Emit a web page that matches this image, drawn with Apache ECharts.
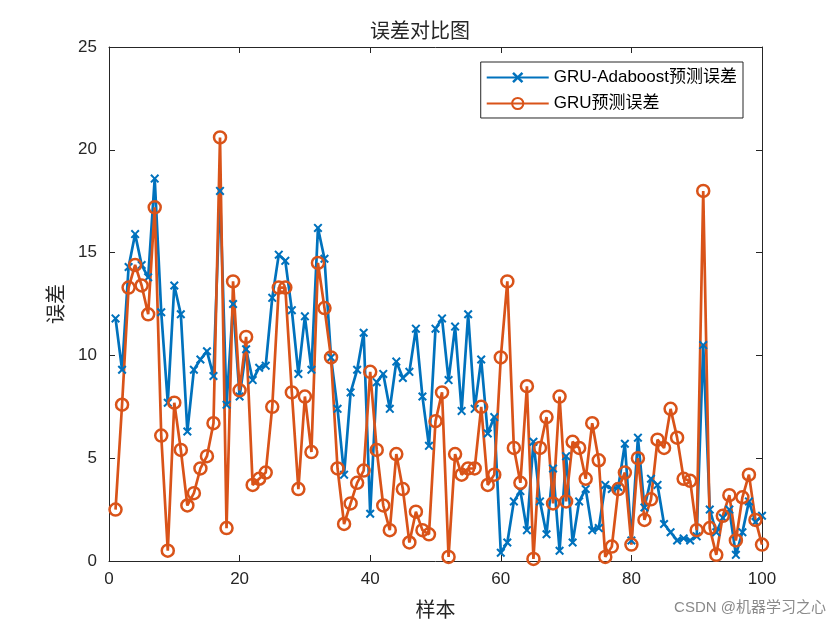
<!DOCTYPE html>
<html><head><meta charset="utf-8">
<script src="https://cdn.jsdelivr.net/npm/echarts@6/dist/echarts.min.js"></script>
<style>html,body{margin:0;padding:0;background:#fff}#c{width:840px;height:630px}</style>
</head><body><div id="c"></div>
<script>
const samples = Array.from({length:100},(_,i)=>i+1);
const adaboostErr = [11.8,9.3,14.3,15.9,14.4,13.8,18.6,12.1,7.7,13.4,
12.0,6.3,9.3,9.8,10.2,9.0,18.0,7.6,12.5,8.0,
10.3,8.8,9.4,9.5,12.8,14.9,14.6,12.2,9.1,11.9,
9.3,16.2,14.7,9.9,7.4,4.2,8.2,9.3,11.1,2.3,
8.7,9.1,7.4,9.7,8.9,9.2,11.3,8.0,5.6,11.3,
11.8,8.8,11.4,7.3,12.0,7.4,9.8,6.2,7.0,0.4,
0.9,2.9,3.4,1.5,5.8,2.9,1.3,4.5,0.5,5.1,
0.9,2.9,3.5,1.5,1.6,3.7,3.5,3.6,5.7,1.0,
6.0,2.6,4.0,3.7,1.8,1.4,1.0,1.1,1.0,1.2,
10.5,2.5,1.4,2.1,2.5,0.3,1.4,2.9,1.9,2.2];
const gruErr = [2.5,7.6,13.3,14.4,13.4,12.0,17.2,6.1,0.5,7.7,
5.4,2.7,3.3,4.5,5.1,6.7,20.6,1.6,13.6,8.3,
10.9,3.7,4.0,4.3,7.5,13.3,13.3,8.2,3.5,8.0,
5.3,14.5,12.3,9.9,4.5,1.8,2.8,3.8,4.4,9.2,
5.4,2.7,1.5,5.2,3.5,0.9,2.4,1.5,1.3,6.8,
8.2,0.2,5.2,4.2,4.5,4.5,7.5,3.7,4.2,9.9,
13.6,5.5,3.8,8.5,0.1,5.5,7.0,2.8,8.0,2.9,
5.8,5.5,4.0,6.7,4.9,0.2,0.7,3.5,4.3,0.8,
5.0,2.0,3.0,5.9,5.5,7.4,6.0,4.0,3.9,1.5,
18.0,1.6,0.3,2.2,3.2,1.0,3.1,4.2,2.0,0.8];
const seriesNames = ['GRU-Adaboost预测误差','GRU预测误差'];
const xTicks = [0,20,40,60,80,100];
const yTicks = [0,5,10,15,20,25];

const FONT = '"Liberation Sans", "Noto Sans CJK SC", sans-serif';
const BLUE = '#0072BD', ORANGE = '#D95319';
const xMark = 'path://M0,1.6 L1.6,0 L5,3.4 L8.4,0 L10,1.6 L6.6,5 L10,8.4 L8.4,10 L5,6.6 L1.6,10 L0,8.4 L3.4,5 Z';

const chart = echarts.init(document.getElementById('c'), null, {renderer:'canvas'});
function axisCommon(){ return {
  axisLine:{show:true,onZero:false,lineStyle:{color:'#262626',width:1}},
  axisTick:{show:true,inside:true,length:6,lineStyle:{color:'#262626'}},
  splitLine:{show:false}
};}
chart.setOption({
  animation:false,
  backgroundColor:'#fff',
  title:{text:'误差对比图',left:'center',top:17,textStyle:{fontFamily:FONT,fontSize:20,fontWeight:'normal',color:'#262626'}},
  grid:{left:109,right:78,top:47,bottom:69,containLabel:false},
  legend:{
    right:97, top:62, orient:'vertical', itemWidth:62, itemHeight:14, itemGap:9,
    backgroundColor:'#fff', borderColor:'#262626', borderWidth:1, padding:[7,6,6,5],
    textStyle:{fontFamily:FONT,fontSize:17,color:'#000'},
    data:seriesNames
  },
  xAxis:[
    Object.assign({type:'value',min:0,max:100,interval:20,position:'bottom',
      name:'样本',nameLocation:'middle',nameGap:40,
      nameTextStyle:{fontFamily:FONT,fontSize:20,color:'#262626'},
      axisLabel:{fontFamily:FONT,fontSize:17,color:'#262626',margin:10}},axisCommon()),
    Object.assign({type:'value',min:0,max:100,interval:20,position:'top',axisLabel:{show:false}},axisCommon())
  ],
  yAxis:[
    Object.assign({type:'value',min:0,max:25,interval:5,position:'left',
      name:'误差',nameLocation:'middle',nameGap:38,nameRotate:90,
      nameTextStyle:{fontFamily:FONT,fontSize:20,color:'#262626'},
      axisLabel:{fontFamily:FONT,fontSize:17,color:'#262626',margin:12}},axisCommon()),
    Object.assign({type:'value',min:0,max:25,interval:5,position:'right',axisLabel:{show:false}},axisCommon())
  ],
  series:[
    {name:seriesNames[0],type:'line',data:samples.map((s,i)=>[s,adaboostErr[i]]),
      symbol:xMark,symbolSize:9,showAllSymbol:true,
      lineStyle:{color:BLUE,width:2.7},itemStyle:{color:BLUE}},
    {name:seriesNames[1],type:'line',data:samples.map((s,i)=>[s,gruErr[i]]),
      symbol:'circle',symbolSize:12,showAllSymbol:true,
      lineStyle:{color:ORANGE,width:2.7},itemStyle:{color:'rgba(255,255,255,0)',borderColor:ORANGE,borderWidth:2.5}}
  ],
  graphic:[{type:'text',right:14,top:600,style:{text:'CSDN @机器学习之心',fontFamily:FONT,fontSize:15,fill:'#8a8a8a'}}]
});
</script></body></html>
